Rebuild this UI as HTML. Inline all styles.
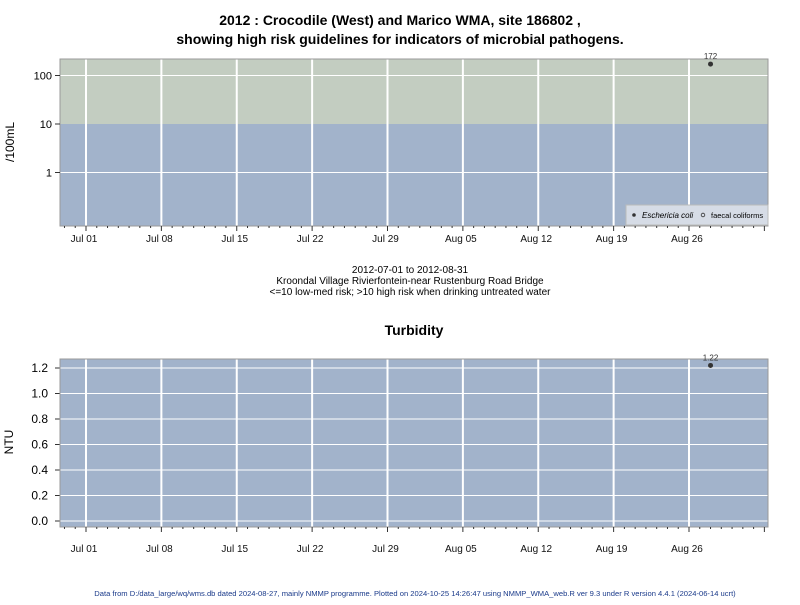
<!DOCTYPE html>
<html><head><meta charset="utf-8"><style>
body{margin:0;background:#fff;font-family:"Liberation Sans",sans-serif}
svg text{font-family:"Liberation Sans",sans-serif}
</style></head><body>
<svg id="c" width="800" height="600"></svg>
<script>
const ecoliDates=["2012-08-28"];
const ecoliValues=[172];
const turbDates=["2012-08-28"];
const turbValues=[1.22];
const weekTicks=["2012-07-01","2012-07-08","2012-07-15","2012-07-22","2012-07-29","2012-08-05","2012-08-12","2012-08-19","2012-08-26"];
const weekLabels=["Jul 01","Jul 08","Jul 15","Jul 22","Jul 29","Aug 05","Aug 12","Aug 19","Aug 26"];
const logTicks=[1,10,100];
const turbTicks=[0,0.2,0.4,0.6,0.8,1.0,1.2];

const S=document.getElementById('c');const NS='http://www.w3.org/2000/svg';
function mk(t,a,txt,name){const e=document.createElementNS(NS,t);for(const k in a)e.setAttribute(k,a[k]);if(txt!=null)e.textContent=txt;


S.appendChild(e);return e;}
const d0=Date.UTC(2012,6,1);
function day(s){const p=s.split('-');return (Date.UTC(+p[0],p[1]-1,+p[2])-d0)/864e5;}
const X0=60,X1=768;
function x(s){return 86+day(s)*(603/56);}
function xd(d){return 86+d*(603/56);}
const T0=59,T1=226;
function yl(v){return 124-(Math.log10(v)-1)*48.5;}
mk('rect',{x:X0,y:T0,width:X1-X0,height:yl(10)-T0,fill:'#c3cdc1'},null,'high-risk-band');
mk('rect',{x:X0,y:yl(10),width:X1-X0,height:T1-yl(10),fill:'#a2b3cb'},null,'low-risk-band');
function grid(y0,y1){weekTicks.forEach(w=>mk('line',{x1:x(w),x2:x(w),y1:y0,y2:y1,stroke:'#fff','stroke-width':2},null,'x-gridline'));}
grid(T0,T1);
logTicks.forEach(v=>{if(v!==10)mk('line',{x1:X0,x2:X1,y1:yl(v),y2:yl(v),stroke:'#fff','stroke-width':1},null,'y-gridline');});
mk('rect',{x:X0,y:T0,width:X1-X0,height:T1-T0,fill:'none',stroke:'#999'},null,'top-plot-border');
function xaxis(yb,ly){for(let d=-2;d<=63;d++){const xx=xd(d);if(xx<X0||xx>X1)continue;const maj=d%7===0;
mk('line',{x1:xx,x2:xx,y1:yb,y2:yb+(maj?5:2),stroke:'#333'},null,maj?'x-major-tick':'x-minor-tick');}
weekTicks.forEach((w,i)=>mk('text',{x:x(w)-2,y:ly,'font-size':10,'text-anchor':'middle',fill:'#111'},weekLabels[i],'x-tick-label'));}
xaxis(T1,242);
logTicks.forEach(v=>{mk('line',{x1:X0-5,x2:X0,y1:yl(v),y2:yl(v),stroke:'#333'},null,'y-tick');
mk('text',{x:X0-8,y:yl(v)+4,'font-size':11,'text-anchor':'end'},String(v),'y-tick-label');});
mk('text',{x:14,y:142,'font-size':12,'text-anchor':'middle',transform:'rotate(-90 14 142)'},'/100mL','y-axis-title');
ecoliDates.forEach((d,i)=>{const cx=x(d),cy=yl(ecoliValues[i]);
mk('circle',{cx:cx,cy:cy,r:2.5,fill:'#333'},null,'ecoli-point');
mk('text',{x:cx,y:cy-5,'font-size':8,'text-anchor':'middle',fill:'#333'},String(ecoliValues[i]),'ecoli-value-label');});
mk('rect',{x:626,y:205,width:142,height:20,fill:'#d6dce6',stroke:'#bbb'},null,'legend');
mk('circle',{cx:634,cy:215,r:1.8,fill:'#333'},null,'legend-ecoli-marker');
mk('text',{x:642,y:218,'font-size':8,'font-style':'italic'},'Eschericia coli','legend-ecoli');
mk('circle',{cx:703,cy:215,r:1.8,fill:'none',stroke:'#333','stroke-width':0.8},null,'legend-faecal-marker');
mk('text',{x:711,y:218,'font-size':7.5},'faecal coliforms','legend-faecal');
mk('text',{x:400,y:25,'font-size':14,'font-weight':'bold','text-anchor':'middle'},'2012 : Crocodile (West) and Marico WMA, site 186802 ,','title-line1');
mk('text',{x:400,y:44,'font-size':14,'font-weight':'bold','text-anchor':'middle'},'showing high risk guidelines for indicators of microbial pathogens.','title-line2');
['2012-07-01 to 2012-08-31','Kroondal Village Rivierfontein-near Rustenburg Road Bridge','<=10 low-med risk; >10 high risk when drinking untreated water'].forEach((t,i)=>
mk('text',{x:410,y:273+i*11,'font-size':10,'text-anchor':'middle'},t,'subtitle-line'));
const B0=359,B1=527;
function yb(v){return 521-v*(153/1.2);}
mk('rect',{x:X0,y:B0,width:X1-X0,height:B1-B0,fill:'#a2b3cb'},null,'turbidity-plot-bg');
grid(B0,B1);
turbTicks.forEach(v=>{mk('line',{x1:X0,x2:X1,y1:yb(v),y2:yb(v),stroke:'#fff'},null,'y-gridline');
mk('line',{x1:X0-5,x2:X0,y1:yb(v),y2:yb(v),stroke:'#333'},null,'y-tick');
mk('text',{x:X0-12,y:yb(v)+4,'font-size':12,'text-anchor':'end'},v.toFixed(1),'y-tick-label');});
mk('rect',{x:X0,y:B0,width:X1-X0,height:B1-B0,fill:'none',stroke:'#999'},null,'bottom-plot-border');
xaxis(B1,552);
mk('text',{x:13,y:442,'font-size':12,'text-anchor':'middle',transform:'rotate(-90 13 442)'},'NTU','y-axis-title-ntu');
turbDates.forEach((d,i)=>{const cx=x(d),cy=yb(turbValues[i]);
mk('circle',{cx:cx,cy:cy,r:2.5,fill:'#333'},null,'turbidity-point');
mk('text',{x:cx,y:cy-5,'font-size':8,'text-anchor':'middle',fill:'#333'},String(turbValues[i]),'turbidity-value-label');});
mk('text',{x:414,y:335,'font-size':14,'font-weight':'bold','text-anchor':'middle'},'Turbidity','turbidity-title');
mk('text',{x:415,y:596,'font-size':7.6,'text-anchor':'middle',fill:'#1a3a8a'},'Data from D:/data_large/wq/wms.db dated 2024-08-27, mainly NMMP programme. Plotted on 2024-10-25 14:26:47 using NMMP_WMA_web.R ver 9.3 under R version 4.4.1 (2024-06-14 ucrt)','footer');
</script>
</body></html>
